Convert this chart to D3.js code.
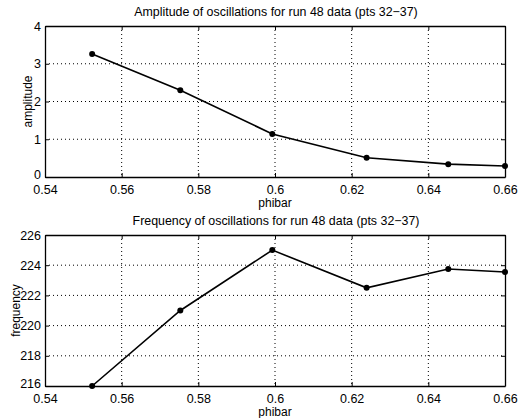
<!DOCTYPE html>
<html><head><meta charset="utf-8">
<script src="https://cdn.jsdelivr.net/npm/d3@7"></script>
<style>body{margin:0;background:#fff}svg{display:block}text{font-family:"Liberation Sans",Arial,sans-serif;fill:#000}</style>
</head><body><svg id="c" width="524" height="418"></svg>
<script>
const phibar = [0.5523, 0.5753, 0.5993, 0.6239, 0.6452, 0.66];
const amplitude = [3.26, 2.30, 1.14, 0.51, 0.34, 0.29];
const frequency = [216.0, 221.0, 225.0, 222.5, 223.75, 223.55];
const xTicks = [0.54, 0.56, 0.58, 0.6, 0.62, 0.64, 0.66];
const ampTicks = [0, 1, 2, 3, 4];
const freqTicks = [216, 218, 220, 222, 224, 226];

const svg = d3.select("#c");
const L = 45, R = 505;

function panel(top, bottom, yDomain, yTicks, vals, title, ylab, ylabX) {
  const x = d3.scaleLinear().domain([0.54, 0.66]).range([L, R]);
  const y = d3.scaleLinear().domain(yDomain).range([bottom, top]);
  const g = svg.append("g");
  // grid
  g.selectAll(".gx").data(xTicks.slice(1, -1)).enter().append("line")
    .attr("x1", d => x(d)).attr("x2", d => x(d)).attr("y1", top).attr("y2", bottom)
    .attr("stroke", "#000").attr("stroke-width", 1).attr("stroke-dasharray", "1,3");
  g.selectAll(".gy").data(yTicks.slice(1, -1)).enter().append("line")
    .attr("x1", L).attr("x2", R).attr("y1", d => y(d)).attr("y2", d => y(d))
    .attr("stroke", "#000").attr("stroke-width", 1).attr("stroke-dasharray", "1,3");
  // axes
  const ax = d3.axisBottom(x).tickValues(xTicks).tickFormat(d => String(+d.toFixed(2))).tickSizeInner(-4).tickSizeOuter(0).tickPadding(8);
  g.append("g").attr("transform", `translate(0,${bottom})`).call(ax);
  const at = d3.axisTop(x).tickValues(xTicks).tickFormat("").tickSizeInner(-4).tickSizeOuter(0);
  g.append("g").attr("transform", `translate(0,${top})`).call(at);
  const ay = d3.axisLeft(y).tickValues(yTicks).tickFormat(d => String(d)).tickSizeInner(-4).tickSizeOuter(0).tickPadding(4);
  const gl = g.append("g").attr("transform", `translate(${L},0)`).call(ay);
  gl.selectAll(".tick text").filter(d => d === yDomain[0]).attr("dy", "0.12em");
  const ar = d3.axisRight(y).tickValues(yTicks).tickFormat("").tickSizeInner(-4).tickSizeOuter(0);
  g.append("g").attr("transform", `translate(${R},0)`).call(ar);
  g.selectAll(".domain").attr("stroke", "#000").attr("stroke-width", 1.3);
  g.selectAll(".tick line").attr("stroke", "#000");
  g.selectAll(".tick text").attr("font-size", 12.5).attr("font-family", "Liberation Sans, Arial, sans-serif").attr("fill", "#000");
  // line
  const line = d3.line().x((d, i) => x(phibar[i])).y(d => y(d));
  g.append("path").datum(vals).attr("d", line).attr("fill", "none").attr("stroke", "#000").attr("stroke-width", 1.6);
  g.selectAll(".pt").data(vals).enter().append("circle")
    .attr("cx", (d, i) => x(phibar[i])).attr("cy", d => y(d)).attr("r", 3).attr("fill", "#000");
  // title, labels
  g.append("text").attr("x", 276).attr("y", top - 10).attr("text-anchor", "middle").attr("font-size", 12.4).text(title);
  g.append("text").attr("x", (L + R) / 2).attr("y", bottom + 30).attr("text-anchor", "middle").attr("font-size", 12).text("phibar");
  g.append("text").attr("transform", `translate(${ylabX},${(top + bottom) / 2}) rotate(-90)`).attr("text-anchor", "middle").attr("dy", "0.35em").attr("font-size", 12).text(ylab);
}

panel(26, 177, [0, 4], ampTicks, amplitude, "Amplitude of oscillations for run 48 data (pts 32\u221237)", "amplitude", 28);
panel(235, 386, [216, 226], freqTicks, frequency, "Frequency of oscillations for run 48 data (pts 32\u221237)", "frequency", 16);
</script></body></html>
